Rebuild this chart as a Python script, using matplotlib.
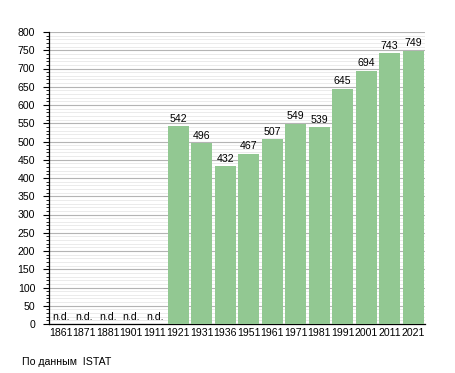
import matplotlib
matplotlib.use("Agg")
import matplotlib.pyplot as plt
from matplotlib.ticker import MultipleLocator

years = ["1861", "1871", "1881", "1901", "1911", "1921", "1931", "1936", "1951",
         "1961", "1971", "1981", "1991", "2001", "2011", "2021"]
values = [None, None, None, None, None, 542, 496, 432, 467, 507, 549, 539, 645, 694, 743, 749]

plt.rcParams['font.family'] = ['Liberation Sans', 'DejaVu Sans']

fig = plt.figure(figsize=(4.55, 3.73), dpi=100)
ax = fig.add_axes([49/455, 1-324/373, 376/455, 292/373])

n = len(years)
x = list(range(n))
h = [v if v is not None else 0 for v in values]
ax.bar(x, h, width=0.89, color='#92c892', zorder=3)
fs = 7.6
for xi, v in zip(x, values):
    if v is None:
        ax.text(xi, 5, "n.d.", ha='center', va='bottom', fontsize=fs, zorder=4)
    else:
        ax.text(xi, v + 6, str(v), ha='center', va='bottom', fontsize=fs, zorder=4)

ax.set_xlim(-0.5, n - 0.5)
ax.set_ylim(0, 800)
ax.yaxis.set_major_locator(MultipleLocator(50))
ax.yaxis.set_minor_locator(MultipleLocator(10))
ax.grid(axis='y', which='major', color='#b4b4b4', linewidth=0.8, zorder=1)
ax.grid(axis='y', which='minor', color='#e8e8e8', linewidth=0.6, zorder=0)
ax.set_xticks(x)
ax.set_xticklabels(years, fontsize=fs)
ax.tick_params(axis='x', length=0, pad=3)
ax.tick_params(axis='y', which='major', labelsize=fs, length=4, direction='out', pad=6)
ax.tick_params(axis='y', which='minor', length=2, direction='out')
ax.spines['top'].set_visible(False)
ax.spines['right'].set_visible(False)
ax.spines['left'].set_linewidth(0.9)
ax.spines['bottom'].set_linewidth(0.9)

fig.text(22/455, 1-362/373, "По данным  ISTAT", fontsize=fs, va='center', ha='left')

fig.savefig("out.png", dpi=100)
